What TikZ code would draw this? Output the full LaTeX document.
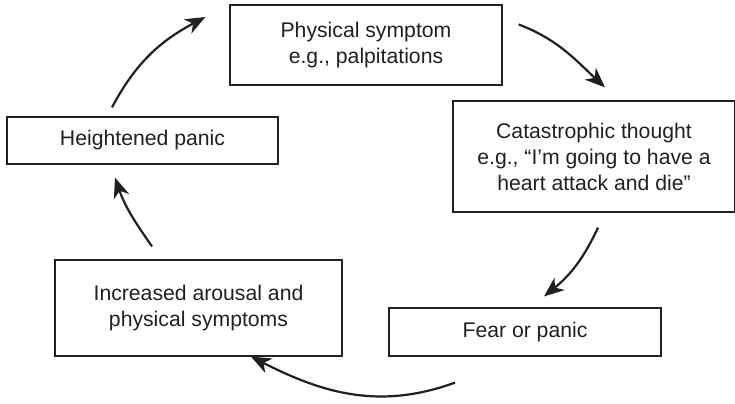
\documentclass[tikz,border=0pt]{standalone}
\usepackage{fontspec}
\setmainfont{Liberation Sans}
\usetikzlibrary{arrows.meta}
\definecolor{cyink}{HTML}{231F20}

\begin{document}
\begin{tikzpicture}[x=0.5pt, y=0.5pt,
  stagebox/.style={draw=cyink, line width=0.6pt, text=cyink, align=center, inner sep=0pt, font=\fontsize{10.6}{13}\selectfont},
  cycarrow/.style={draw=cyink, line width=1.1pt, -{Stealth[length=10pt, width=8pt, inset=3pt]}}]
  \useasboundingbox (0,0) rectangle (735,-403);
  \node[stagebox, minimum width=136pt, minimum height=40pt] (physical) at (366,-45) {Physical symptom\\e.g., palpitations};
  \node[stagebox, minimum width=141pt, minimum height=55.5pt] (catastrophic) at (594,-156.5) {Catastrophic thought\\e.g., “I’m going to have a\\heart attack and die”};
  \node[stagebox, minimum width=136pt, minimum height=24pt] (fear) at (525,-332) {Fear or panic};
  \node[stagebox, minimum width=143.5pt, minimum height=48pt] (arousal) at (198.5,-308) {Increased arousal and\\physical symptoms};
  \node[stagebox, minimum width=135.5pt, minimum height=23.5pt] (heightened) at (142.5,-140.5) {Heightened panic};
  \draw[cycarrow] ([shift={(-30.5,9)}]heightened.north) to[out=62, in=208] ([shift={(-24,28)}]physical.west);
  \draw[cycarrow] ([shift={(16,-20)}]physical.north east) to[out=-21, in=137] ([shift={(11,13)}]catastrophic.north);
  \draw[cycarrow] ([shift={(4,-15)}]catastrophic.south) to[out=-115, in=39] ([shift={(19,11)}]fear.north);
  \draw[cycarrow] ([shift={(-70,-26)}]fear.south) to[out=200, in=-27] ([shift={(52.5,0)}]arousal.south);
  \draw[cycarrow] ([shift={(-46.5,13)}]arousal.north) to[out=125, in=-71] ([shift={(-27.5,-13)}]heightened.south);
\end{tikzpicture}
\end{document}
